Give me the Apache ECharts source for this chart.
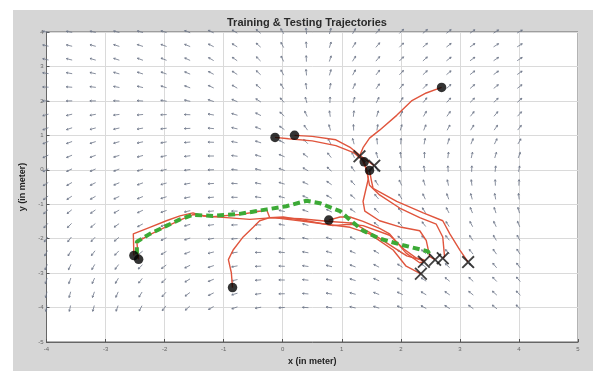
<!DOCTYPE html>
<html><head><meta charset="utf-8">
<script src="https://cdn.jsdelivr.net/npm/echarts@6/dist/echarts.min.js"></script>
<style>
html,body{margin:0;padding:0;background:#fff;width:607px;height:371px;overflow:hidden}
#panel{position:absolute;left:13px;top:10px;width:580px;height:361px;background:#d6d6d6}
#c{position:absolute;left:0;top:0;width:607px;height:371px}
</style>
</head><body><div id="panel"></div><div id="c"></div>
<script>
// ---- data ----
const xTicks = [-4,-3,-2,-1,0,1,2,3,4,5];
const yTicks = [-5,-4,-3,-2,-1,0,1,2,3,4];
const quiverX = [-4,-3.6,-3.2,-2.8,-2.4,-2,-1.6,-1.2,-0.8,-0.4,0,0.4,0.8,1.2,1.6,2,2.4,2.8,3.2,3.6,4];
const quiverY = [4,3.6,3.2,2.8,2.4,2,1.6,1.2,0.8,0.4,0,-0.4,-0.8,-1.2,-1.6,-2,-2.4,-2.8,-3.2,-3.6,-4];
// arrow direction (degrees) per row (y from 4 down to -4), per column (x from -4 to 4)
const quiverAngles = [
 [170,170,168,166,165,163,160,155,150,140,120,95,75,60,50,45,40,38,35,33,30],
 [168,167,165,163,162,160,158,153,148,138,118,93,73,58,50,45,40,38,35,33,32],
 [168,166,164,162,160,158,155,150,145,135,115,92,72,58,50,45,42,38,36,34,33],
 [172,170,168,165,162,160,157,152,147,137,118,95,75,62,52,47,43,40,38,36,35],
 [178,176,173,170,167,164,160,155,150,140,122,98,80,66,56,50,46,43,41,39,38],
 [182,181,180,178,176,172,168,162,157,147,130,105,88,74,64,57,52,48,45,43,42],
 [195,193,190,187,185,182,178,170,163,153,138,115,98,84,73,66,60,55,52,50,48],
 [200,198,195,192,190,187,182,175,167,158,145,125,105,92,82,75,68,62,58,55,52],
 [203,200,198,195,192,190,185,178,170,162,152,135,118,105,95,87,80,73,68,64,60],
 [205,203,200,197,195,192,187,180,173,165,157,143,128,115,105,97,90,83,78,74,70],
 [208,205,203,200,197,193,188,182,175,168,160,150,137,125,115,107,100,93,88,84,80],
 [212,210,207,203,200,195,190,183,177,170,163,155,145,133,123,115,108,102,97,92,88],
 [217,214,210,206,202,197,191,185,179,172,166,158,150,140,130,122,115,110,105,100,97],
 [222,219,215,210,205,199,193,186,180,174,168,161,154,145,136,128,122,117,112,108,105],
 [228,225,220,215,208,202,195,188,182,176,170,164,158,150,142,135,128,123,118,115,112],
 [235,232,227,220,213,205,198,190,184,178,172,167,161,154,147,140,134,129,124,120,118],
 [242,238,233,226,218,210,202,194,187,180,175,170,164,157,150,144,138,133,129,125,122],
 [248,245,240,233,225,216,207,198,190,183,177,172,167,160,153,147,142,137,133,130,127],
 [253,250,246,240,232,222,212,202,193,185,179,174,169,163,157,151,146,141,137,134,131],
 [257,255,251,246,238,228,217,206,196,188,181,175,170,165,159,154,149,145,141,138,135],
 [260,258,255,250,243,233,222,210,199,190,183,177,172,167,162,157,152,148,144,141,138]
];

const traj1 = [[2.69,2.39],[2.43,2.23],[2.18,2.0],[1.93,1.58],[1.64,1.15],[1.47,0.92],[1.36,0.64],[1.3,0.39]];
const traj2 = [[0.2,1.0],[0.5,0.97],[0.9,0.87],[1.15,0.64],[1.35,0.36],[1.55,0.12]];
const traj3 = [[-0.13,0.94],[0.1,0.9],[0.5,0.84],[0.9,0.7],[1.2,0.5],[1.35,0.28],[1.42,0.0],[1.45,-0.26],[1.36,-0.92],[1.39,-1.2],[1.64,-1.48],[2.01,-1.67],[2.32,-1.77],[2.43,-2.05],[2.49,-2.52],[2.58,-2.61]];
const traj4 = [[1.38,0.23],[1.42,0.0],[1.47,-0.45],[1.64,-0.73],[1.98,-1.11],[2.32,-1.39],[2.6,-1.58],[2.71,-1.95],[2.74,-2.52],[2.71,-2.57]];
const traj5 = [[1.47,-0.02],[1.5,-0.3],[1.53,-0.54],[1.93,-0.92],[2.38,-1.25],[2.71,-1.48],[2.83,-1.86],[3.0,-2.33],[3.14,-2.68]];
const traj6 = [[0.78,-1.46],[0.97,-1.37],[1.14,-1.37],[1.36,-1.5],[1.64,-1.7],[1.81,-1.86],[2.09,-2.42],[2.32,-2.7],[2.39,-2.67]];
const traj7 = [[-2.52,-2.49],[-2.53,-1.86],[-2.25,-1.67],[-1.97,-1.48],[-1.74,-1.34],[-1.52,-1.25],[-1.35,-1.34],[-0.95,-1.39],[-0.56,-1.44],[-0.16,-1.39],[0.29,-1.48],[0.74,-1.58],[1.14,-1.67],[1.47,-1.86],[1.87,-2.33],[2.09,-2.8],[2.34,-3.02]];
const traj8 = [[-0.85,-3.42],[-0.87,-2.99],[-0.92,-2.61],[-0.84,-2.33],[-0.67,-1.95],[-0.5,-1.67],[-0.39,-1.48],[-0.22,-1.39],[0.01,-1.37],[0.4,-1.48],[0.85,-1.62],[1.14,-1.58],[1.36,-1.62],[1.81,-1.9],[2.05,-2.3],[2.25,-2.55],[2.4,-2.62]];
const traj9 = [[-2.44,-2.6],[-2.47,-2.1],[-2.25,-1.88],[-1.97,-1.65],[-1.74,-1.46],[-1.52,-1.3],[-1.18,-1.36],[-0.73,-1.3],[-0.27,-1.17],[-0.22,-1.39],[0.3,-1.42],[0.8,-1.5],[1.2,-1.55],[1.6,-1.95],[2.1,-2.5],[2.41,-2.65]];
const greenPath = [[-2.47,-2.45],[-2.47,-2.09],[-2.25,-1.86],[-1.97,-1.63],[-1.74,-1.44],[-1.52,-1.31],[-1.18,-1.34],[-0.73,-1.28],[-0.27,-1.15],[0.06,-1.06],[0.4,-0.9],[0.63,-0.97],[0.97,-1.2],[1.14,-1.46],[1.36,-1.77],[1.64,-2.0],[2.04,-2.19],[2.46,-2.37],[2.49,-2.47]];
const startX = [2.69,0.2,-0.13,1.38,1.47,0.78,-2.52,-2.44,-0.85];
const startY = [2.39,1.0,0.94,0.23,-0.02,-1.46,-2.49,-2.6,-3.42];
const endX = [1.3,1.55,2.39,2.58,2.71,3.14,2.34];
const endY = [0.39,0.12,-2.67,-2.61,-2.57,-2.68,-3.02];

// ---- build chart ----
const quiverData = [];
quiverY.forEach((y, r) => quiverX.forEach((x, c) => quiverData.push([x, y, quiverAngles[r][c]])));
const redColor = '#e0553d';
const redSeries = [traj1,traj2,traj3,traj4,traj5,traj6,traj7,traj8,traj9].map(t => ({
  type:'line', data:t, symbol:'none', silent:true, z:3,
  lineStyle:{color:redColor, width:1.4}
}));
const arrowColor = '#6b7386';
const chart = echarts.init(document.getElementById('c'), null, {renderer:'canvas'});
chart.setOption({
  backgroundColor:'transparent',
  animation:false,
  title:{text:'Training & Testing Trajectories', left:222, top:12,
    textStyle:{fontFamily:'Liberation Sans, Arial, sans-serif', fontSize:11, fontWeight:'bold', color:'#2a2a2a'}},
  grid:{left:46.5, right:29, top:32, bottom:20, show:true, backgroundColor:'#fff', borderColor:'#666', borderWidth:1},
  xAxis:{type:'value', min:-4, max:5, interval:1,
    name:'x (in meter)', nameLocation:'middle', nameGap:15,
    nameTextStyle:{fontFamily:'Liberation Sans, Arial, sans-serif', fontSize:9, fontWeight:'bold', color:'#222'},
    axisLine:{show:true, onZero:false, lineStyle:{color:'#666', width:1}},
    axisTick:{show:true, inside:true, length:3, lineStyle:{color:'#555'}},
    axisLabel:{fontSize:6, color:'#666', margin:4, formatter:v => xTicks.includes(v) ? String(v) : ''},
    splitLine:{show:true, lineStyle:{color:'#dadada', width:1}}},
  yAxis:{type:'value', min:-5, max:4, interval:1,
    name:'y (in meter)', nameLocation:'middle', nameGap:11, nameRotate:90,
    nameTextStyle:{fontFamily:'Liberation Sans, Arial, sans-serif', fontSize:9, fontWeight:'bold', color:'#222'},
    axisLine:{show:true, onZero:false, lineStyle:{color:'#666', width:1}},
    axisTick:{show:true, inside:true, length:3, lineStyle:{color:'#555'}},
    axisLabel:{fontSize:6, color:'#666', margin:3, formatter:v => yTicks.includes(v) ? String(v) : ''},
    splitLine:{show:true, lineStyle:{color:'#dadada', width:1}}},
  series:[
    {type:'custom', data:quiverData, silent:true, z:2, clip:false,
     renderItem:function(params, api){
       const a = api.value(2) * Math.PI / 180;
       const p = api.coord([api.value(0), api.value(1)]);
       const L = 6;
       const ux = Math.cos(a), uy = -Math.sin(a);
       const tail = [p[0] - ux*L*0.35, p[1] - uy*L*0.35];
       const tip = [p[0] + ux*L*0.65, p[1] + uy*L*0.65];
       const h = 2, ha = 0.5;
       const b1 = [tip[0] - h*Math.cos(a-ha), tip[1] + h*Math.sin(a-ha)];
       const b2 = [tip[0] - h*Math.cos(a+ha), tip[1] + h*Math.sin(a+ha)];
       const st = {stroke:arrowColor, lineWidth:0.8, fill:null};
       return {type:'group', children:[
         {type:'polyline', shape:{points:[tail, tip]}, style:st},
         {type:'polyline', shape:{points:[b1, tip, b2]}, style:st}
       ]};
     }},
    ...redSeries,
    {type:'line', data:greenPath, symbol:'none', silent:true, z:4,
     lineStyle:{color:'#3caa36', width:4, type:[7,4]}},
    {type:'scatter', data:startX.map((x,i)=>[x,startY[i]]), symbol:'circle', symbolSize:9.5, z:5,
     itemStyle:{color:'#000'}, silent:true},
    {type:'scatter', data:endX.map((x,i)=>[x,endY[i]]), z:6, silent:true, symbolSize:13,
     symbol:'path://M0,1.2 L1.2,0 L6,4.8 L10.8,0 L12,1.2 L7.2,6 L12,10.8 L10.8,12 L6,7.2 L1.2,12 L0,10.8 L4.8,6 Z',
     itemStyle:{color:'#111'}}
  ]
});
</script></body></html>
